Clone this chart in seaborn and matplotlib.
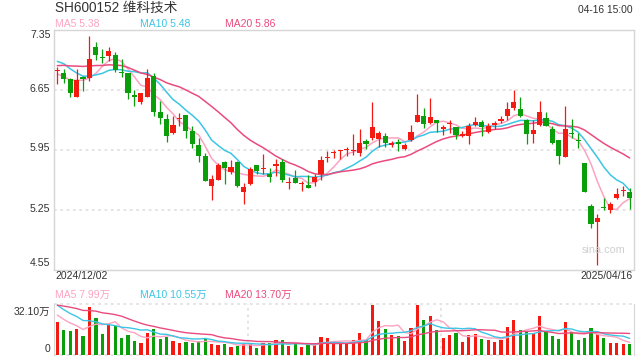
import numpy as np
import pandas as pd
import matplotlib
matplotlib.use("Agg")
import matplotlib.pyplot as plt
import seaborn as sns

title = "SH600152 维科技术"
stamp = "04-16 15:00"
start_label = "2024/12/02"
end_label = "2025/04/16"
price_ticks = [7.35, 6.65, 5.95, 5.25, 4.55]
ma_labels = ["MA5 5.38", "MA10 5.48", "MA20 5.86"]
vol_ma_labels = ["MA5 7.99万", "MA10 10.55万", "MA20 13.70万"]
vol_max_label = "32.10万"

# daily candles, 2024/12/02 .. 2025/04/16
open_ = [6.87, 6.84, 6.78, 6.56, 6.80, 6.79, 7.15, 7.035, 7.04, 7.05,
         6.85, 6.85, 6.59, 6.51, 6.56, 6.81, 6.39, 6.31, 6.148, 6.31,
         6.355, 6.168, 6.00, 5.88, 5.53, 5.60, 5.80, 5.69, 5.80, 5.457,
         5.545, 5.775, 5.72, 5.66, 5.755, 5.81, 5.56, 5.623, 5.553, 5.54,
         5.577, 5.665, 5.85, 5.905, 5.93, 5.95, 5.93, 5.907, 6.047, 6.082,
         6.078, 6.11, 6.00, 6.04, 5.96, 6.058, 6.277, 6.347, 6.257, 6.30,
         6.195, 6.253, 6.215, 6.105, 6.105, 6.242, 6.273, 6.152, 6.238, 6.28,
         6.339, 6.432, 6.425, 6.292, 6.133, 6.233, 6.32, 6.19, 6.067, 5.865,
         6.145, 6.055, 5.795, 5.297, 5.102, 5.27, 5.242, 5.382, 5.472, 5.452]
high = [6.92, 6.89, 6.79, 6.89, 6.81, 7.28, 7.21, 7.13, 7.15, 7.09,
        7.01, 6.85, 6.65, 6.61, 6.895, 6.85, 6.52, 6.37, 6.343, 6.38,
        6.355, 6.23, 6.08, 5.915, 5.65, 5.79, 5.82, 5.83, 5.82, 5.565,
        5.75, 5.775, 5.895, 5.74, 5.837, 5.837, 5.63, 5.713, 5.585, 5.655,
        5.66, 5.87, 5.935, 5.94, 5.95, 5.98, 6.13, 6.187, 6.078, 6.50,
        6.168, 6.145, 6.055, 6.078, 6.032, 6.238, 6.595, 6.44, 6.548, 6.30,
        6.233, 6.29, 6.215, 6.163, 6.265, 6.33, 6.292, 6.262, 6.285, 6.339,
        6.507, 6.65, 6.565, 6.308, 6.30, 6.522, 6.385, 6.222, 6.067, 6.463,
        6.308, 6.145, 5.795, 5.32, 5.20, 5.387, 5.34, 5.503, 5.53, 5.503]
low = [6.72, 6.73, 6.56, 6.56, 6.64, 6.75, 7.00, 6.96, 6.98, 6.86,
       6.80, 6.54, 6.46, 6.48, 6.56, 6.34, 6.245, 6.04, 6.137, 6.22,
       6.09, 5.965, 5.80, 5.58, 5.36, 5.60, 5.545, 5.66, 5.515, 5.32,
       5.54, 5.67, 5.67, 5.577, 5.643, 5.577, 5.495, 5.557, 5.47, 5.505,
       5.52, 5.60, 5.80, 5.85, 5.835, 5.877, 5.89, 5.88, 5.953, 6.067,
       5.985, 5.98, 5.985, 5.93, 5.947, 6.05, 6.27, 6.198, 6.25, 6.16,
       6.117, 6.145, 6.075, 6.098, 6.017, 6.222, 6.113, 6.148, 6.19, 6.262,
       6.30, 6.408, 6.331, 6.02, 6.03, 6.222, 6.222, 6.02, 5.783, 5.865,
       6.087, 5.97, 5.452, 5.037, 4.60, 5.25, 5.21, 5.378, 5.413, 5.262]
close = [6.88, 6.78, 6.61, 6.76, 6.77, 7.01, 7.05, 7.02, 7.10, 6.88,
         6.84, 6.61, 6.56, 6.61, 6.79, 6.39, 6.315, 6.105, 6.24, 6.32,
         6.163, 6.01, 5.87, 5.585, 5.61, 5.775, 5.74, 5.75, 5.52, 5.515,
         5.725, 5.70, 5.73, 5.627, 5.787, 5.60, 5.57, 5.557, 5.56, 5.505,
         5.627, 5.833, 5.857, 5.913, 5.935, 5.957, 5.94, 6.03, 6.012, 6.21,
         6.145, 6.032, 6.028, 6.02, 6.00, 6.16, 6.35, 6.245, 6.335, 6.26,
         6.218, 6.26, 6.117, 6.137, 6.222, 6.277, 6.21, 6.222, 6.262, 6.31,
         6.425, 6.507, 6.339, 6.133, 6.175, 6.39, 6.23, 6.028, 5.872, 6.192,
         6.137, 6.047, 5.452, 5.087, 5.153, 5.265, 5.32, 5.433, 5.48, 5.382]
# volume in 万
volume = [21.3, 15.95, 15.3, 16.6, 12.1, 31.0, 23.7, 13.6, 19.6, 18.7,
          10.8, 12.9, 8.85, 7.75, 14.2, 16.6, 10.3, 11.6, 8.85, 7.75,
          8.2, 7.75, 8.85, 10.8, 7.1, 6.46, 7.1, 5.17, 5.4, 7.1,
          7.1, 4.5, 7.35, 7.35, 9.5, 9.5, 5.4, 7.75, 4.8, 6.27,
          6.27, 11.4, 10.8, 7.75, 7.35, 7.35, 9.5, 14.0, 9.5, 32.1,
          21.8, 16.6, 12.7, 12.1, 8.85, 17.2, 32.1, 22.4, 25.0, 15.95,
          10.8, 12.7, 14.0, 8.2, 12.7, 13.4, 10.1, 9.5, 8.2, 9.5,
          17.9, 22.4, 15.95, 14.9, 14.0, 25.0, 15.3, 12.1, 10.1, 21.1,
          14.95, 9.5, 10.8, 17.2, 13.2, 10.5, 7.8, 7.7, 7.1, 6.85]

# rough values before the window, only there to seed the moving averages
prior_close = [6.70, 6.75, 6.80, 6.85, 6.90, 6.95, 7.00, 6.95, 6.95, 6.95,
               7.05, 7.20, 7.25, 7.15, 7.00, 6.90, 6.85, 6.75, 6.77]
prior_vol = [28, 30, 34, 36, 33, 31, 35, 30, 32, 31,
             45, 40, 36, 38, 33, 30, 27, 25, 24.7]

sns.set_style("white")
plt.rcParams['font.family'] = ['Liberation Sans', 'Noto Sans CJK SC', 'DejaVu Sans']

RED = '#f31a12'
GREEN = '#0a9e0a'
MA_COLORS = ['#fda3c1', '#3dc5e5', '#ea4b7e']
GRID = '#e2e2e2'
BORDER = '#d6d6d6'
W, H = 640, 360

fig = plt.figure(figsize=(6.4, 3.6), dpi=100)
ax = fig.add_axes([54.3 / W, 1 - 269.5 / H, 580 / W, 239.8 / H])
axv = fig.add_axes([54.3 / W, 1 - 354.7 / H, 580 / W, 50.4 / H])

df = pd.DataFrame(dict(open=open_, high=high, low=low, close=close, vol=volume))
df['i'] = np.arange(len(df))
colors = np.where(df.close >= df.open, RED, GREEN)
n0 = len(prior_close)
allc = pd.Series(prior_close + close)
allv = pd.Series(prior_vol + volume)

# price panel
for y in price_ticks[1:-1]:
    ax.axhline(y, color=GRID, lw=1.3, ls=(0, (1.5, 2)), zorder=0)
for w, col in zip([5, 10, 20], MA_COLORS):
    ma = allc.rolling(w, min_periods=1).mean().iloc[n0:].to_numpy()
    sns.lineplot(x=df.i, y=ma, ax=ax, color=col, lw=1.1, legend=False, zorder=2)
ax.vlines(df.i, df.low, df.high, colors=colors, lw=0.9, zorder=3)
body = np.maximum((df.close - df.open).abs(), 0.012)
ax.bar(df.i, body, bottom=np.minimum(df.open, df.close), width=0.8,
       color=colors, zorder=4, linewidth=0)
ax.set_xlim(-0.47, 89.73)
ax.set_ylim(4.55, 7.35)
ax.set_xticks([])
ax.set_yticks([])
ax.set_xlabel('')
ax.set_ylabel('')
for s in ax.spines.values():
    s.set_color(BORDER)
    s.set_linewidth(1)

# volume panel
axv.bar(df.i, df.vol, width=0.5, color=colors, linewidth=0, zorder=2)
for w, col in zip([5, 10, 20], MA_COLORS):
    ma = allv.rolling(w, min_periods=1).mean().iloc[n0:].to_numpy()
    sns.lineplot(x=df.i, y=ma, ax=axv, color=col, lw=1.0, legend=False, zorder=3)
axv.set_xlim(-0.47, 89.73)
axv.set_ylim(0, 32.55)
axv.set_xticks([])
axv.set_yticks([])
axv.set_xlabel('')
axv.set_ylabel('')
for k in ['top', 'bottom']:
    axv.spines[k].set_visible(False)
for k in ['left', 'right']:
    axv.spines[k].set_color(BORDER)
for yy in [0, 1]:
    axv.plot([0, 1], [yy, yy], transform=axv.transAxes, color=GRID, lw=1.3,
             ls=(0, (1.5, 2)), clip_on=False, zorder=1)
for xx in [1 / 3, 2 / 3]:
    axv.plot([xx, xx], [0, 1], transform=axv.transAxes, color=GRID, lw=1.3,
             ls=(0, (1.5, 2)), zorder=1)


def txt(x, y, s, **kw):
    fig.text(x / W, 1 - y / H, s, **kw)


txt(55, 8, title, fontsize=9.8, color='#333333', va='center')
txt(633, 10, stamp, fontsize=7.4, color='#333333', va='center', ha='right')
for x, s, col in zip([55, 140, 225], ma_labels, MA_COLORS):
    txt(x, 24, s, fontsize=7.5, color=col, va='center')
for y, v in zip([35, 89, 148, 209, 263], price_ticks):
    txt(50.5, y, f"{v:.2f}", fontsize=7.6, color='#333333', va='center', ha='right')
txt(55, 276, start_label, fontsize=7.5, color='#333333', va='center')
txt(633, 276, end_label, fontsize=7.5, color='#333333', va='center', ha='right')
txt(582, 250, "sina.com", fontsize=7.8, color='#cfcfcf', va='center')
for x, s, col in zip([55, 140, 225], vol_ma_labels, MA_COLORS):
    txt(x, 295, s, fontsize=7.5, color=col, va='center')
txt(50.5, 311.5, vol_max_label, fontsize=7.5, color='#333333', va='center', ha='right')
txt(50.5, 349, "0", fontsize=7.5, color='#333333', va='center', ha='right')

fig.savefig("out.png", dpi=100)
